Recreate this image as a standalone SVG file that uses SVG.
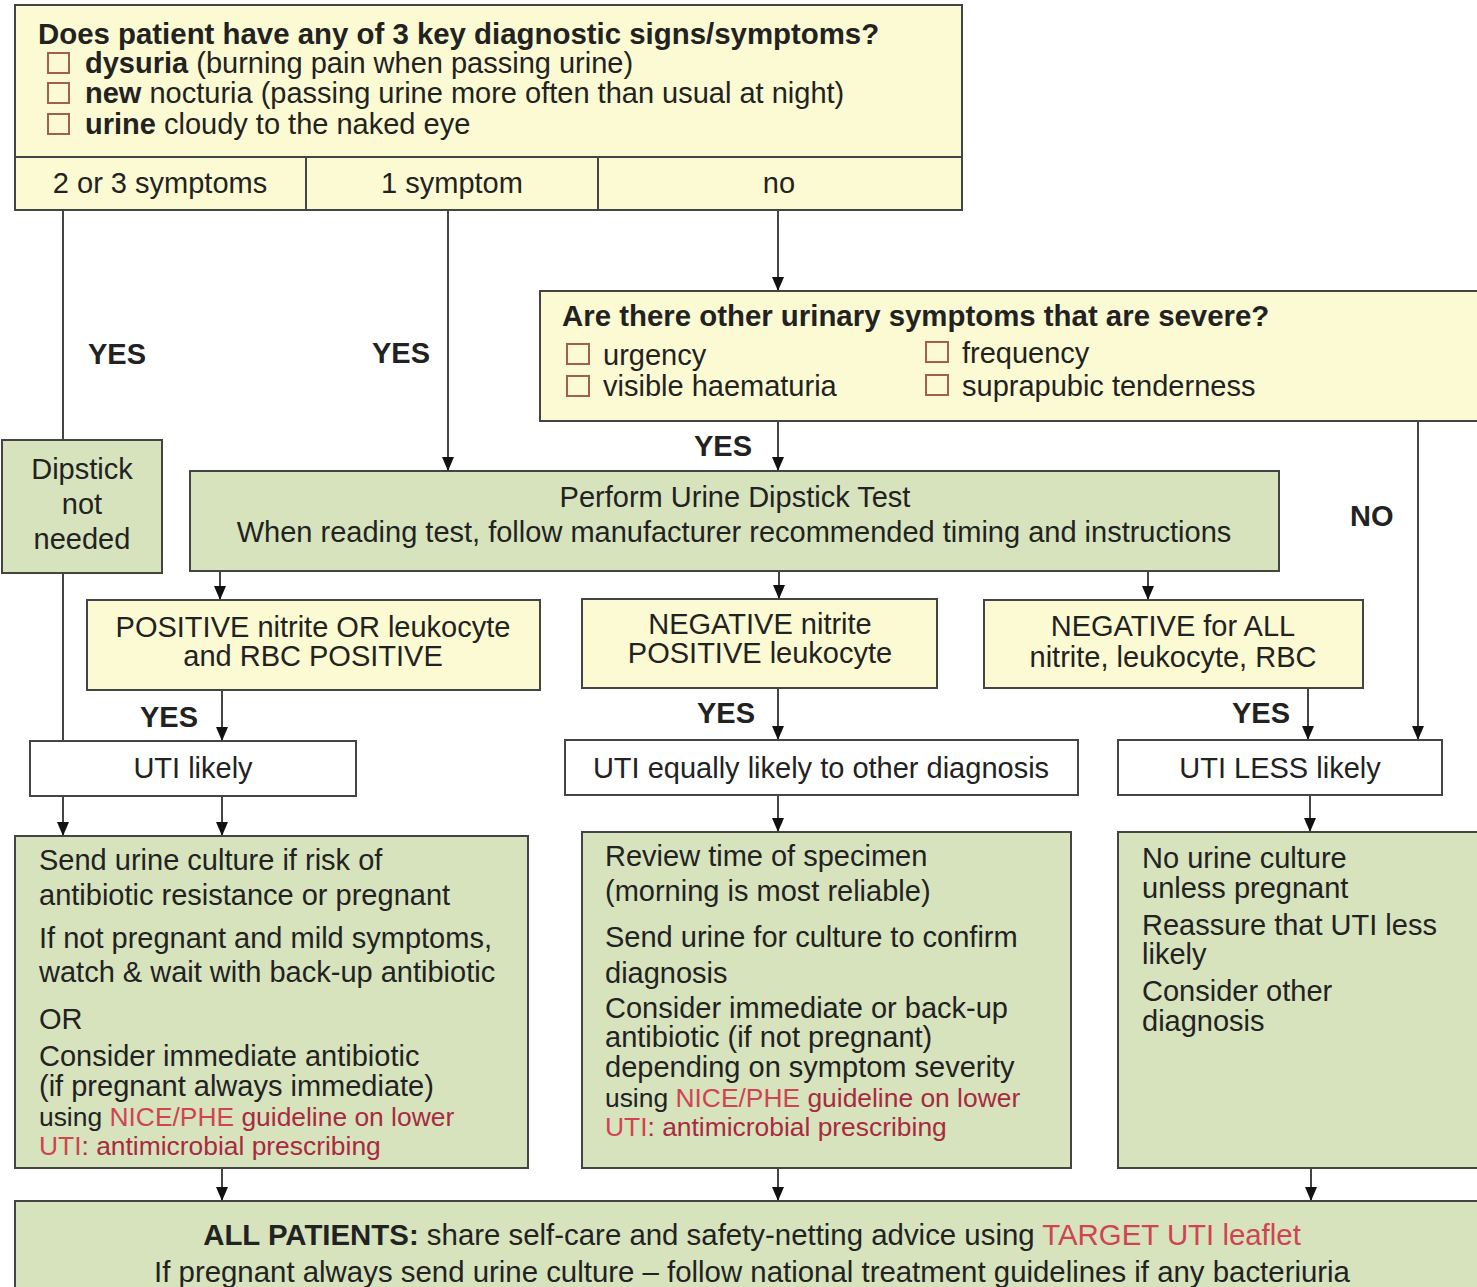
<svg xmlns="http://www.w3.org/2000/svg" width="1477" height="1287" viewBox="0 0 1477 1287">
<defs>
<style>
text{font-family:"Liberation Sans",Arial,sans-serif;font-size:29px;fill:#222}
.b{font-weight:bold}
.c{text-anchor:middle}
.s{font-size:26.4px}
.t{font-size:29.4px}
.y{fill:#fcfad2;stroke:#444;stroke-width:2}
.g{fill:#d7e3bd;stroke:#444;stroke-width:2}
.w{fill:#fff;stroke:#444;stroke-width:2}
.cb{fill:none;stroke:#a0604a;stroke-width:2}
.ln{fill:none;stroke:#444;stroke-width:2}
.ar{fill:none;stroke:#444;stroke-width:2;marker-end:url(#arr)}
.r1{fill:#d04452}
.r2{fill:#a82a40}
</style>
<marker id="arr" viewBox="0 0 14 12" refX="14" refY="6" markerWidth="14" markerHeight="12" markerUnits="userSpaceOnUse" orient="auto">
<path d="M0,0 L14,6 L0,12 z" fill="#111"/>
</marker>
</defs>
<rect x="0" y="0" width="1477" height="1287" fill="#fff"/>

<g id="connectors">
<path class="ln" d="M63,210 V440"/>
<path class="ar" d="M63,573 V836"/>
<path class="ar" d="M448,210 V471"/>
<path class="ar" d="M778,210 V291"/>
<path class="ar" d="M778,421 V471"/>
<path class="ar" d="M1418,421 V740"/>
<path class="ar" d="M220,571 V600"/>
<path class="ar" d="M779,571 V599"/>
<path class="ar" d="M1148,571 V600"/>
<path class="ar" d="M222,690 V741"/>
<path class="ar" d="M778,688 V740"/>
<path class="ar" d="M1308,688 V740"/>
<path class="ar" d="M222,796 V836"/>
<path class="ar" d="M778,795 V832"/>
<path class="ar" d="M1310,795 V832"/>
<path class="ar" d="M222,1168 V1201"/>
<path class="ar" d="M778,1168 V1201"/>
<path class="ar" d="M1311,1168 V1201"/>
<text class="b" x="88" y="364">YES</text>
<text class="b" x="372" y="363">YES</text>
<text class="b" x="694" y="456">YES</text>
<text class="b" x="1350" y="526">NO</text>
<text class="b" x="140" y="727">YES</text>
<text class="b" x="697" y="723">YES</text>
<text class="b" x="1232" y="723">YES</text>
</g>

<g id="key-signs">
<rect class="y" x="15" y="5" width="947" height="205"/>
<line class="ln" x1="15" y1="157" x2="962" y2="157"/>
<line class="ln" x1="306" y1="157" x2="306" y2="210"/>
<line class="ln" x1="598" y1="157" x2="598" y2="210"/>
<text class="b t" x="38" y="44">Does patient have any of 3 key diagnostic signs/symptoms?</text>
<rect class="cb" x="48" y="53" width="21" height="20"/>
<rect class="cb" x="48" y="83" width="21" height="20"/>
<rect class="cb" x="48" y="114" width="21" height="20"/>
<text x="85" y="73"><tspan class="b">dysuria</tspan> (burning pain when passing urine)</text>
<text x="85" y="103"><tspan class="b">new</tspan> nocturia (passing urine more often than usual at night)</text>
<text x="85" y="134"><tspan class="b">urine</tspan> cloudy to the naked eye</text>
<text class="c" x="160" y="193">2 or 3 symptoms</text>
<text class="c" x="452" y="193">1 symptom</text>
<text class="c" x="779" y="193">no</text>
</g>

<g id="severe">
<rect class="y" x="540" y="291" width="950" height="130"/>
<text class="b t" x="562" y="326">Are there other urinary symptoms that are severe?</text>
<rect class="cb" x="567" y="344" width="22" height="20"/>
<rect class="cb" x="567" y="376" width="22" height="20"/>
<rect class="cb" x="926" y="342" width="22" height="20"/>
<rect class="cb" x="926" y="375" width="22" height="20"/>
<text x="603" y="365">urgency</text>
<text x="603" y="396">visible haematuria</text>
<text x="962" y="363">frequency</text>
<text x="962" y="396">suprapubic tenderness</text>
</g>

<g id="dipstick-not-needed">
<rect class="g" x="2" y="440" width="160" height="133"/>
<text class="c" x="82" y="479">Dipstick</text>
<text class="c" x="82" y="514">not</text>
<text class="c" x="82" y="549">needed</text>
</g>

<g id="perform-dipstick">
<rect class="g" x="190" y="471" width="1089" height="100"/>
<text class="c" x="735" y="507">Perform Urine Dipstick Test</text>
<text class="c" x="734" y="542">When reading test, follow manufacturer recommended timing and instructions</text>
</g>

<g id="positive">
<rect class="y" x="87" y="600" width="453" height="90"/>
<text class="c" x="313" y="637">POSITIVE nitrite OR leukocyte</text>
<text class="c" x="313" y="666">and RBC POSITIVE</text>
</g>

<g id="negative-nitrite">
<rect class="y" x="582" y="599" width="355" height="89"/>
<text class="c" x="760" y="634">NEGATIVE nitrite</text>
<text class="c" x="760" y="663">POSITIVE leukocyte</text>
</g>

<g id="negative-all">
<rect class="y" x="984" y="600" width="379" height="88"/>
<text class="c" x="1173" y="636">NEGATIVE for ALL</text>
<text class="c" x="1173" y="667">nitrite, leukocyte, RBC</text>
</g>

<g id="uti-likely">
<rect class="w" x="30" y="741" width="326" height="55"/>
<text class="c" x="193" y="778">UTI likely</text>
</g>

<g id="uti-equally">
<rect class="w" x="565" y="740" width="513" height="55"/>
<text class="c" x="821" y="778">UTI equally likely to other diagnosis</text>
</g>

<g id="uti-less">
<rect class="w" x="1118" y="740" width="324" height="55"/>
<text class="c" x="1280" y="778">UTI LESS likely</text>
</g>

<g id="action-likely">
<rect class="g" x="15" y="836" width="513" height="332"/>
<text x="39" y="870">Send urine culture if risk of</text>
<text x="39" y="905">antibiotic resistance or pregnant</text>
<text x="39" y="948">If not pregnant and mild symptoms,</text>
<text x="39" y="982">watch &amp; wait with back-up antibiotic</text>
<text x="39" y="1029">OR</text>
<text x="39" y="1066">Consider immediate antibiotic</text>
<text x="39" y="1096">(if pregnant always immediate)</text>
<text class="s" x="39" y="1126">using <tspan class="r1">NICE/PHE</tspan> <tspan class="r2">guideline on lower</tspan></text>
<text class="s" x="39" y="1155"><tspan class="r1">UTI</tspan><tspan class="r2">: antimicrobial prescribing</tspan></text>
</g>

<g id="action-equally">
<rect class="g" x="582" y="832" width="489" height="336"/>
<text x="605" y="866">Review time of specimen</text>
<text x="605" y="901">(morning is most reliable)</text>
<text x="605" y="947">Send urine for culture to confirm</text>
<text x="605" y="983">diagnosis</text>
<text x="605" y="1018">Consider immediate or back-up</text>
<text x="605" y="1047">antibiotic (if not pregnant)</text>
<text x="605" y="1077">depending on symptom severity</text>
<text class="s" x="605" y="1107">using <tspan class="r1">NICE/PHE</tspan> <tspan class="r2">guideline on lower</tspan></text>
<text class="s" x="605" y="1136"><tspan class="r1">UTI</tspan><tspan class="r2">: antimicrobial prescribing</tspan></text>
</g>

<g id="action-less">
<rect class="g" x="1118" y="832" width="372" height="336"/>
<text x="1142" y="868">No urine culture</text>
<text x="1142" y="898">unless pregnant</text>
<text x="1142" y="935">Reassure that UTI less</text>
<text x="1142" y="964">likely</text>
<text x="1142" y="1001">Consider other</text>
<text x="1142" y="1031">diagnosis</text>
</g>

<g id="all-patients">
<rect class="g" x="15" y="1201" width="1475" height="100"/>
<text class="c t" x="752" y="1245"><tspan class="b">ALL PATIENTS:</tspan> share self-care and safety-netting advice using <tspan class="r1">TARGET UTI leaflet</tspan></text>
<text class="c t" x="752" y="1282">If pregnant always send urine culture – follow national treatment guidelines if any bacteriuria</text>
</g>
</svg>
